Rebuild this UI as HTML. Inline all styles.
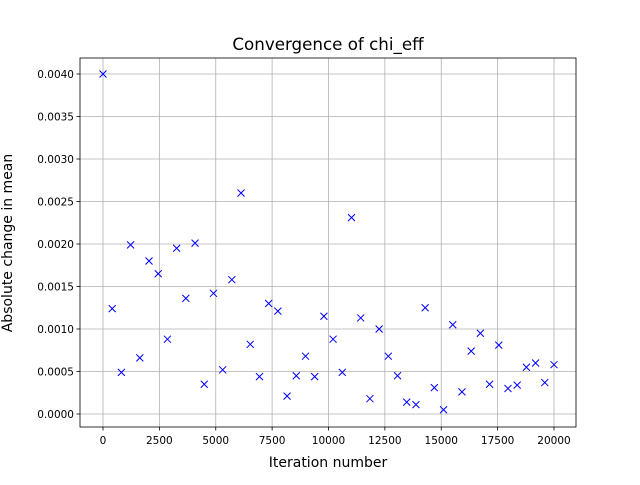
<!DOCTYPE html>
<html><head><meta charset="utf-8"><style>
body{margin:0;background:#fff;}
svg text{font-family:"DejaVu Sans","Liberation Sans",sans-serif;fill:#000;}
</style></head><body>
<svg id="chart" width="640" height="480" xmlns="http://www.w3.org/2000/svg">
<rect width="640" height="480" fill="#fff"/>
<g id="grid"></g><g id="axes"></g><g id="marks"></g>
<text x="328" y="50" font-size="16.7" text-anchor="middle">Convergence of chi_eff</text>
<text x="328" y="467" font-size="14" text-anchor="middle">Iteration number</text>
<text transform="translate(12,243) rotate(-90)" font-size="14" text-anchor="middle">Absolute change in mean</text>
</svg>
<script>
const yValues=[0.0040,0.00124,0.00049,0.00199,0.00066,0.0018,0.00165,0.00088,0.00195,0.00136,0.00201,0.00035,0.00142,0.00052,0.00158,0.0026,0.00082,0.00044,0.0013,0.00121,0.00021,0.00045,0.00068,0.00044,0.00115,0.00088,0.00049,0.00231,0.00113,0.00018,0.001,0.00068,0.00045,0.00014,0.00011,0.00125,0.00031,0.00005,0.00105,0.00026,0.00074,0.00095,0.00035,0.00081,0.0003,0.00034,0.00055,0.0006,0.00037,0.00058];
const xValues=yValues.map((v,i)=>Math.round(i*20000/49));
const xTicks=[0,2500,5000,7500,10000,12500,15000,17500,20000];
const yTicks=[0,0.0005,0.001,0.0015,0.002,0.0025,0.003,0.0035,0.004];
const L=80,R=576,T=58,B=427;
const sx=v=>103+v*(451/20000);
const sy=v=>414-v*85000;
const NS="http://www.w3.org/2000/svg";
function mk(tag,attrs,parent){const e=document.createElementNS(NS,tag);for(const k in attrs)e.setAttribute(k,attrs[k]);parent.appendChild(e);return e;}
const grid=document.getElementById('grid'),axes=document.getElementById('axes'),marks=document.getElementById('marks');
xTicks.forEach(t=>{const x=sx(t);
 const g=mk('line',{x1:x,x2:x,y1:T,y2:B,stroke:'#b0b0b0','stroke-width':0.8},grid);
 
 
 mk('line',{x1:x,x2:x,y1:B,y2:B+3.5,stroke:'#000','stroke-width':0.8},axes);
 const tx=mk('text',{x:x,y:B+17,'font-size':10.5,'text-anchor':'middle'},axes);tx.textContent=t;
 
 
});
yTicks.forEach(t=>{const y=sy(t);
 const g=mk('line',{x1:L,x2:R,y1:y,y2:y,stroke:'#b0b0b0','stroke-width':0.8},grid);
 
 
 mk('line',{x1:L-3.5,x2:L,y1:y,y2:y,stroke:'#000','stroke-width':0.8},axes);
 const tx=mk('text',{x:L-6,y:y+4,'font-size':10.5,'text-anchor':'end'},axes);tx.textContent=t.toFixed(4);
 
 
});
const fr=mk('rect',{x:L,y:T,width:R-L,height:B-T,fill:'none',stroke:'#000','stroke-width':0.8},axes);


yValues.forEach((v,i)=>{const x=sx(xValues[i]),y=sy(v),d=3.5;
 const p=mk('path',{d:`M${x-d},${y-d}L${x+d},${y+d}M${x-d},${y+d}L${x+d},${y-d}`,stroke:'#0000ff','stroke-width':1,fill:'none'},marks);
 
 
});
</script>
</body></html>
